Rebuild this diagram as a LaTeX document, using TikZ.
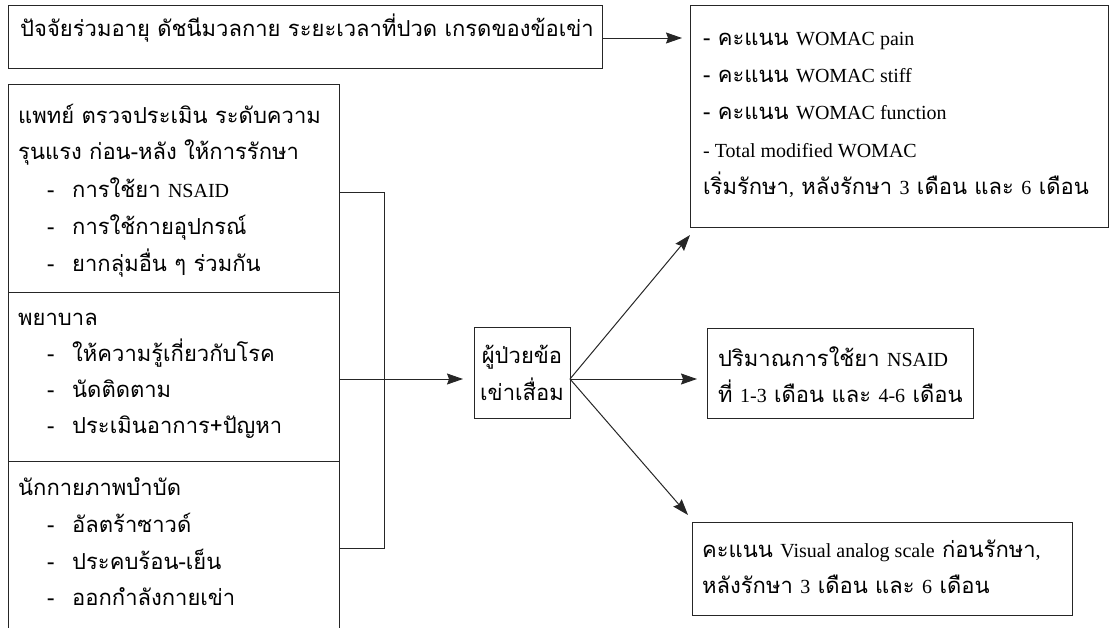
\documentclass[tikz,border=0pt]{standalone}
\usepackage{fontspec}
\setmainfont{Liberation Serif}
\newfontfamily\thaifont[Script=Thai]{Loma}
\usetikzlibrary{arrows.meta}
\tikzset{
  box/.style={draw=black!85, line width=1pt, anchor=north west, inner sep=0pt},
  lbl/.style={anchor=base west, inner sep=0pt, font=\thaifont\fontsize{22}{26}\selectfont},
  ctr/.style={anchor=base, inner sep=0pt, font=\thaifont\fontsize{22}{26}\selectfont},
  conn/.style={draw=black!85, line width=1pt},
  arr/.style={conn, -{Stealth[length=16pt,width=11pt,inset=2pt]}}
}
\newcommand{\lt}[1]{{\rmfamily\fontsize{20}{24}\selectfont #1}}
\begin{document}
\begin{tikzpicture}[x=1pt,y=-1pt]
\useasboundingbox (0,0) rectangle (1111,627);
\clip (0,0) rectangle (1111,627);
% boxes
\node[box, minimum width=594, minimum height=63] (fac) at (8,5) {};
\node[box, minimum width=418, minimum height=222] (womac) at (690,5) {};
\node[box, minimum width=331, minimum height=208] (sec1) at (8,84) {};
\node[box, minimum width=331, minimum height=169] (sec2) at (8,292) {};
\node[box, minimum width=331, minimum height=170] (sec3) at (8,461) {};
\node[box, minimum width=96, minimum height=91] (pat) at (474,327) {};
\node[box, minimum width=266, minimum height=90] (nsaid) at (707,328) {};
\node[box, minimum width=380, minimum height=93] (vas) at (692,522) {};
% texts
\node[lbl] (t0) at (20,36) {ปัจจัยร่วมอายุ ดัชนีมวลกาย ระยะเวลาที่ปวด เกรดของข้อเข่า};
\node[lbl] (w1) at (703,45) {- คะแนน \lt{WOMAC pain}};
\node[lbl] (w2) at (703,82) {- คะแนน \lt{WOMAC stiff}};
\node[lbl] (w3) at (703,119) {- คะแนน \lt{WOMAC function}};
\node[lbl] (w4) at (703,157) {\lt{- Total modified WOMAC}};
\node[lbl] (w5) at (703,194) {เริ่มรักษา\lt{,} หลังรักษา \lt{3} เดือน และ \lt{6} เดือน};
\node[lbl] (a1) at (18,123) {แพทย์ ตรวจประเมิน ระดับความ};
\node[lbl] (a2) at (18,159) {รุนแรง ก่อน-หลัง ให้การรักษา};
\node[lbl] (a3d) at (47,197) {-};
\node[lbl] (a3) at (72,197) {การใช้ยา \lt{NSAID}};
\node[lbl] (a4d) at (47,234) {-};
\node[lbl] (a4) at (72,234) {การใช้กายอุปกรณ์};
\node[lbl] (a5d) at (47,271) {-};
\node[lbl] (a5) at (72,271) {ยากลุ่มอื่น ๆ ร่วมกัน};
\node[lbl] (b1) at (18,325) {พยาบาล};
\node[lbl] (b2d) at (47,361) {-};
\node[lbl] (b2) at (72,361) {ให้ความรู้เกี่ยวกับโรค};
\node[lbl] (b3d) at (47,397) {-};
\node[lbl] (b3) at (72,397) {นัดติดตาม};
\node[lbl] (b4d) at (47,433) {-};
\node[lbl] (b4) at (72,433) {ประเมินอาการ+ปัญหา};
\node[lbl] (c1) at (18,495) {นักกายภาพบำบัด};
\node[lbl] (c2d) at (47,532) {-};
\node[lbl] (c2) at (72,532) {อัลตร้าซาวด์};
\node[lbl] (c3d) at (47,569) {-};
\node[lbl] (c3) at (72,569) {ประคบร้อน-เย็น};
\node[lbl] (c4d) at (47,605) {-};
\node[lbl] (c4) at (72,605) {ออกกำลังกายเข่า};
\node[ctr] (p1) at (522,363) {ผู้ป่วยข้อ};
\node[ctr] (p2) at (522,400) {เข่าเสื่อม};
\node[lbl] (n1) at (718,366) {ปริมาณการใช้ยา \lt{NSAID}};
\node[lbl] (n2) at (718,402) {ที่ \lt{1-3} เดือน และ \lt{4-6} เดือน};
\node[lbl] (v1) at (702,557) {คะแนน \lt{Visual analog scale} ก่อนรักษา\lt{,}};
\node[lbl] (v2) at (702,593) {หลังรักษา \lt{3} เดือน และ \lt{6} เดือน};
% connectors
\coordinate (k1) at (384,192);
\coordinate (k2) at (384,548);
\coordinate (po) at (570,379);
\coordinate (tw) at (690,235);
\coordinate (tv) at (688,515);
\draw[arr, shorten >=8pt] (fac.east |- 0,38) -- (womac.west |- 0,38);
\draw[conn] (sec1.east |- k1) -- (k1) -- (k2) -- (sec3.east |- k2);
\draw[arr, shorten >=11pt] (sec2.east |- 0,379) -- (pat.west |- 0,379);
\draw[arr] (po) -- (tw);
\draw[arr, shorten >=10pt] (po) -- (nsaid.west |- po);
\draw[arr] (po) -- (tv);
\end{tikzpicture}
\end{document}
